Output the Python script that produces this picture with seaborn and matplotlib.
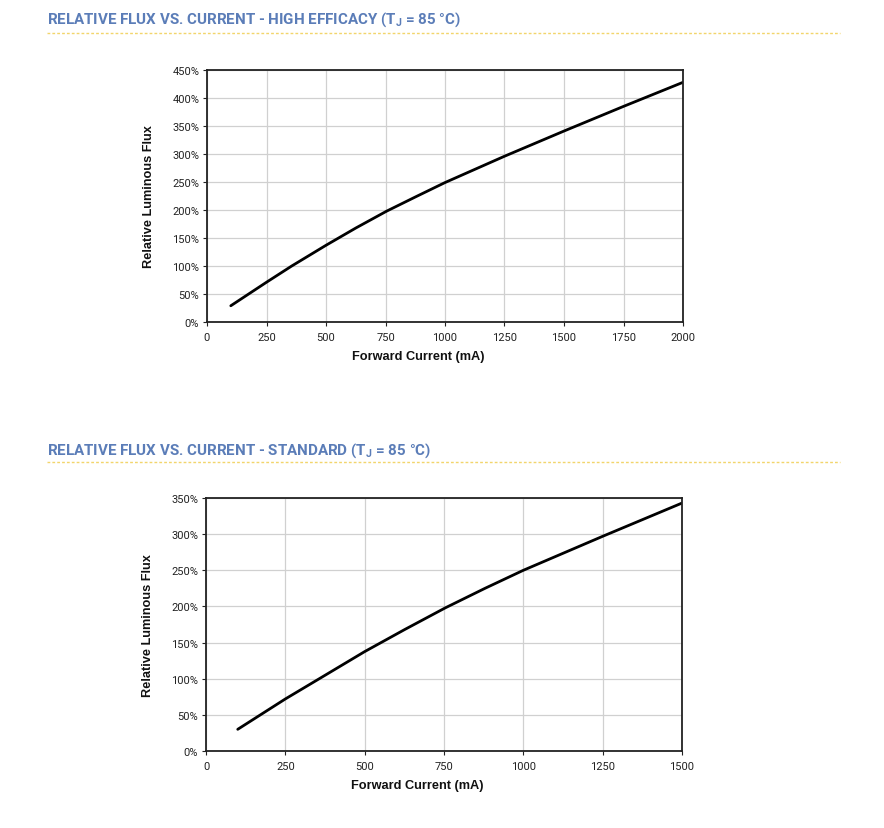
import numpy as np
import matplotlib
matplotlib.use("Agg")
import matplotlib.pyplot as plt
import seaborn as sns
import pandas as pd
from matplotlib.ticker import PercentFormatter
from matplotlib.lines import Line2D

# 数据
he_current = [100, 250, 356, 500, 626, 755, 879, 1000, 1250, 1500, 1750, 2000]
he_flux = [29, 71, 100, 137, 168, 198, 224, 249, 296, 341, 385, 428]

std_current = [100, 250, 357, 500, 626, 754, 879, 1000, 1250, 1500]
std_flux = [30, 72, 100, 137.5, 168, 198, 225, 250, 297, 343]

he_xticks = [0, 250, 500, 750, 1000, 1250, 1500, 1750, 2000]
he_yticks = [0, 50, 100, 150, 200, 250, 300, 350, 400, 450]
std_xticks = [0, 250, 500, 750, 1000, 1250, 1500]
std_yticks = [0, 50, 100, 150, 200, 250, 300, 350]

titles = ["RELATIVE FLUX VS. CURRENT - HIGH EFFICACY (T$_{J}$ = 85 °C)",
          "RELATIVE FLUX VS. CURRENT - STANDARD (T$_{J}$ = 85 °C)"]

sns.set_theme(style="whitegrid")
plt.rcParams['font.family'] = ['Roboto', 'DejaVu Sans']
plt.rcParams['mathtext.default'] = 'regular'

W, H = 884, 829
fig = plt.figure(figsize=(W / 100, H / 100), dpi=100)


def add_panel(rect, current, flux, xticks, yticks, title, title_y, line_y):
    ax = fig.add_axes(rect)
    df = pd.DataFrame({"current": current, "flux": flux})
    sns.lineplot(data=df, x="current", y="flux", ax=ax, color="black",
                 linewidth=2.0, solid_joinstyle="round")
    ax.set_xlim(xticks[0], xticks[-1])
    ax.set_ylim(yticks[0], yticks[-1])
    ax.set_xticks(xticks)
    ax.set_yticks(yticks)
    ax.yaxis.set_major_formatter(PercentFormatter(decimals=0))
    ax.grid(True, color="#d0d0d0", linewidth=0.9)
    for s in ax.spines.values():
        s.set_color("#222222")
        s.set_linewidth(1.3)
    ax.tick_params(axis="both", labelsize=8, colors="#222222", length=3,
                   width=0.8, direction="out", left=True, bottom=True)
    ax.tick_params(axis="x", pad=4.5)
    ax.tick_params(axis="y", pad=2.5)
    ax.set_xlabel("Forward Current (mA)", fontsize=9.2, fontweight="bold",
                  family=["Liberation Sans", "DejaVu Sans"], color="#111111")
    ax.set_ylabel("Relative Luminous Flux", fontsize=9.2, fontweight="bold",
                  family=["Liberation Sans", "DejaVu Sans"], color="#111111")
    ax.xaxis.set_label_coords(0.443, -0.11)
    ax.yaxis.set_label_coords(-0.11, 0.5)

    fig.text(47 / W, 1 - title_y / H, title, fontsize=10.9, fontweight="bold",
             color="#5b7db8", ha="left", va="center")
    fig.add_artist(Line2D([47 / W, 840 / W], [1 - line_y / H, 1 - line_y / H],
                          transform=fig.transFigure, color="#f2d56b",
                          linewidth=1.0, linestyle=(0, (2, 1.5))))
    return ax


add_panel([207 / W, 1 - 323 / H, 476 / W, 252 / H], he_current, he_flux,
          he_xticks, he_yticks, titles[0], 20, 34)
add_panel([206 / W, 1 - 752 / H, 476 / W, 253 / H], std_current, std_flux,
          std_xticks, std_yticks, titles[1], 451, 463)

fig.savefig("out.png", dpi=100, facecolor="white")
